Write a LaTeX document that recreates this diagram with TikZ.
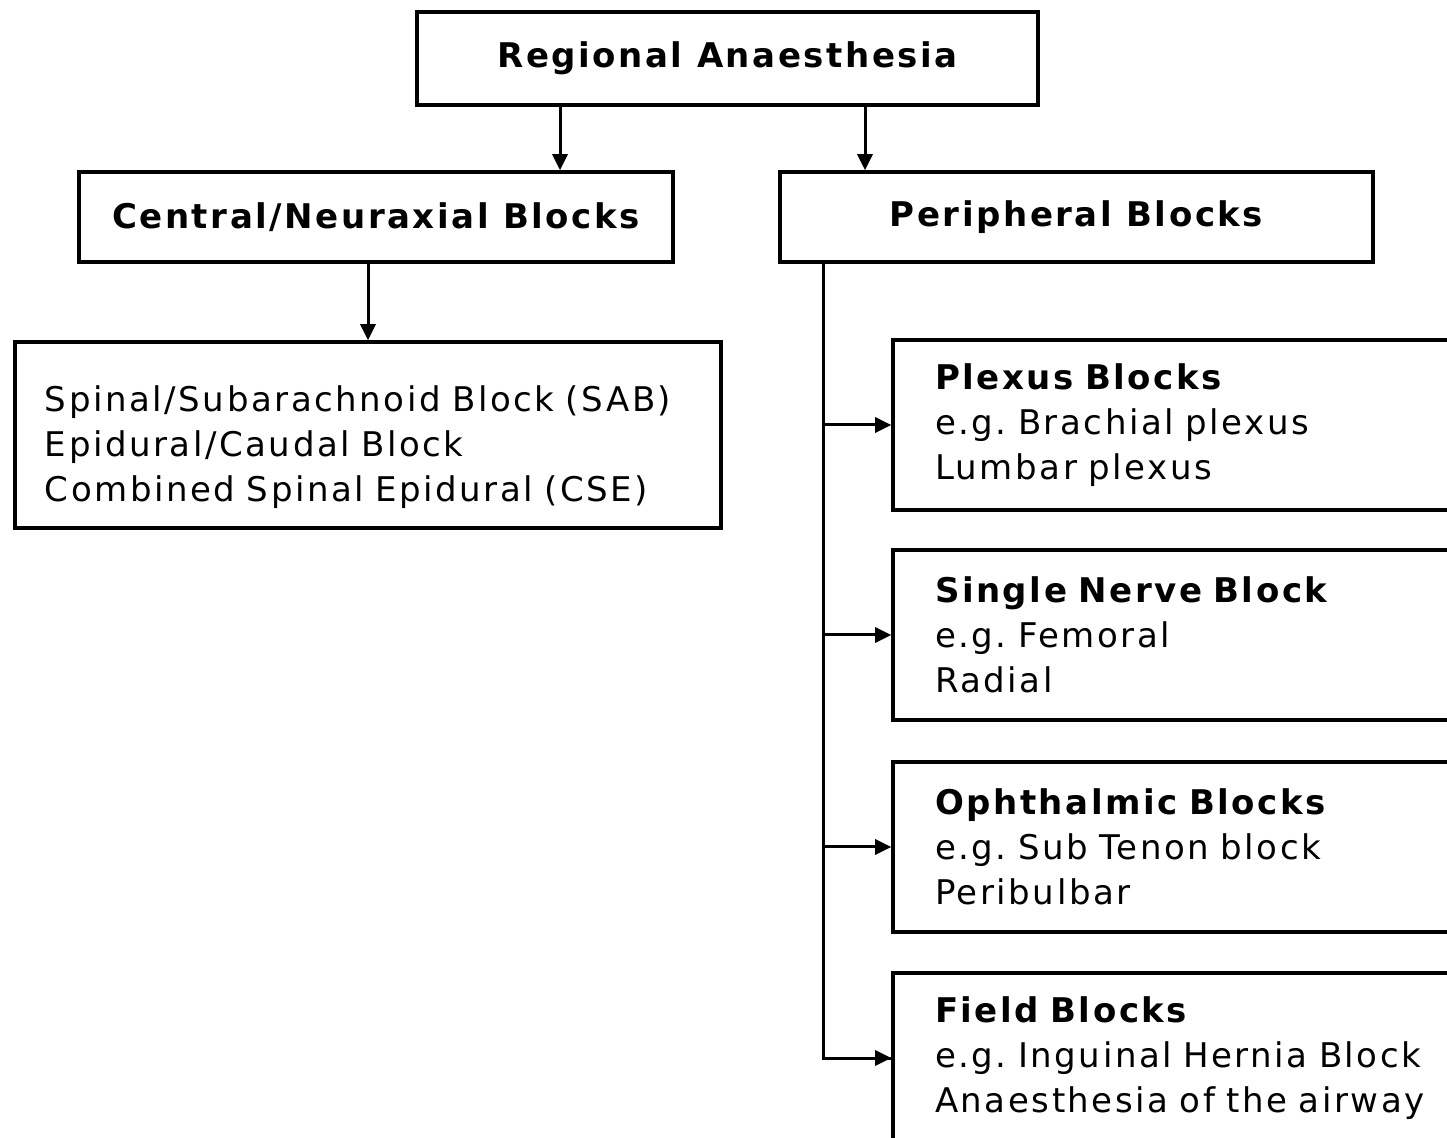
\documentclass[tikz,border=0pt]{standalone}
\usepackage{fontspec}
\setmainfont{DejaVu Sans}[LetterSpace=7.5]
\usetikzlibrary{arrows.meta}
\tikzset{
  box/.style={draw, line width=1.8pt, rectangle, inner sep=0pt},
  head/.style={box, font=\fontsize{17}{22}\selectfont\bfseries},
  listbox/.style={box, align=left, font=\fontsize{17}{22.5}\selectfont},
  arr/.style={line width=1.5pt, -{Triangle[length=8pt,width=7.5pt]}},
  line/.style={line width=1.5pt}
}
\begin{document}
\begin{tikzpicture}[x=0.5pt, y=-0.5pt]
    \useasboundingbox (0,0) rectangle (1447,1138);
    \clip (0,0) rectangle (1447,1138);
    % top level
    \node[head, minimum width=310.5pt, minimum height=46.5pt] (reg) at (727.5,58.5) {Regional Anaesthesia};
    \node[head, minimum width=297pt, minimum height=45pt] (cen) at (376,217) {Central/Neuraxial Blocks};
    \node[head, minimum width=296.5pt, minimum height=45pt] (per) at (1076.5,217) {Peripheral Blocks};
    \draw[arr] (reg.south -| 560,0) -- (cen.north -| 560,0);
    \draw[arr] (reg.south -| 865,0) -- (per.north -| 865,0);
    % central blocks
    \node[listbox, minimum width=353pt, minimum height=93pt, text width=323pt, inner xsep=15pt] (sab) at (368,435)
        {\rule{0pt}{25pt}Spinal/Subarachnoid Block (SAB)\\Epidural/Caudal Block\\Combined Spinal Epidural (CSE)};
    \draw[arr] (cen.south -| 368,0) -- (sab.north -| 368,0);
    % peripheral blocks
    \node[listbox, minimum width=293.5pt, minimum height=85pt, text width=251.5pt, inner xsep=21pt] (plex) at (1186.5,425)
        {\textbf{Plexus Blocks}\\e.g.\ Brachial plexus\\Lumbar plexus};
    \node[listbox, minimum width=293.5pt, minimum height=85pt, text width=251.5pt, inner xsep=21pt] (nerve) at (1186.5,635)
        {\textbf{Single Nerve Block}\\e.g.\ Femoral\\Radial};
    \node[listbox, minimum width=293.5pt, minimum height=85pt, text width=251.5pt, inner xsep=21pt] (oph) at (1186.5,847)
        {\textbf{Ophthalmic Blocks}\\e.g.\ Sub Tenon block\\Peribulbar};
    \node[listbox, minimum width=293.5pt, minimum height=85pt, text width=251.5pt, inner xsep=21pt] (field) at (1186.5,1058)
        {\textbf{Field Blocks}\\e.g.\ Inguinal Hernia Block\\Anaesthesia of the airway};
    \draw[line] (per.south -| 823,0) |- (field.west);
    \foreach \b in {plex,nerve,oph,field}
        \draw[arr] (\b.west -| 823,0) -- (\b.west);
\end{tikzpicture}
\end{document}
